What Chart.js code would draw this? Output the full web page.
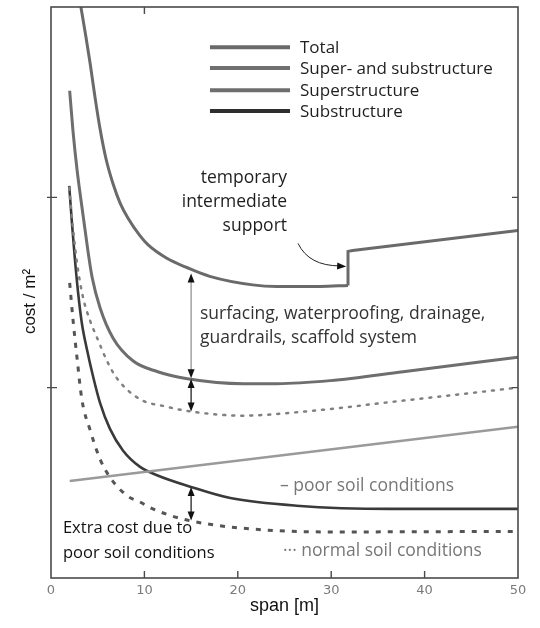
<!DOCTYPE html>
<html>
<head>
<meta charset="utf-8">
<script src="https://cdn.jsdelivr.net/npm/chart.js@4.4.1/dist/chart.umd.min.js"></script>
<style>
  html, body { margin: 0; padding: 0; background: #fff; }
  #wrap { width: 540px; height: 628px; position: relative; }
</style>
</head>
<body>
<div id="wrap"><canvas id="chart"></canvas></div>
<script>
// Span [m] and relative cost per m² for each cost curve.
const totalSpan = [3.2, 3.75, 4.2, 4.7, 5.25, 5.9, 6.65, 7.4, 8.25, 9.5, 10.4, 12.4, 14.6, 17.0, 21.6, 24.2, 28.8, 31.8];
const totalCost = [3.0, 2.84, 2.70, 2.53, 2.36, 2.20, 2.07, 1.97, 1.89, 1.80, 1.75, 1.68, 1.63, 1.585, 1.54, 1.532, 1.532, 1.537];

// Total beyond the temporary intermediate support (jump at 32 m).
const stepSpan = [31.8, 31.8, 32.3, 50];
const stepCost = [1.537, 1.716, 1.721, 1.826];

const superSubSpan = [2.0, 2.35, 2.8, 3.45, 3.95, 4.4, 5.25, 6.65, 8.8, 11.35, 14.6, 20.6, 24.2, 29.9, 37.7, 50];
const superSubCost = [2.56, 2.35, 2.14, 1.90, 1.72, 1.58, 1.42, 1.26, 1.14, 1.085, 1.047, 1.021, 1.021, 1.037, 1.084, 1.16];

const superSubNormalSpan = [1.95, 2.35, 2.8, 3.45, 4.2, 4.95, 6.0, 7.05, 9.5, 12.4, 14.9, 20.6, 27.0, 37.7, 50];
const superSubNormalCost = [2.05, 1.84, 1.65, 1.47, 1.35, 1.26, 1.14, 1.05, 0.94, 0.90, 0.875, 0.853, 0.874, 0.932, 1.0];

const superSpan = [2.0, 50];
const superCost = [0.51, 0.795];

const subPoorSpan = [1.95, 2.25, 2.55, 2.9, 3.3, 3.85, 4.5, 5.25, 6.3, 7.7, 9.5, 11.35, 14.9, 19.2, 26.3, 36.3, 50];
const subPoorCost = [2.06, 1.86, 1.68, 1.50, 1.34, 1.20, 1.06, 0.92, 0.785, 0.67, 0.585, 0.54, 0.48, 0.42, 0.38, 0.363, 0.363];

const subNormalSpan = [2.0, 2.35, 2.8, 3.3, 4.2, 5.25, 6.3, 8.15, 9.5, 10.9, 14.1, 19.2, 29.9, 50];
const subNormalCost = [1.55, 1.36, 1.15, 0.94, 0.775, 0.625, 0.53, 0.432, 0.40, 0.363, 0.31, 0.268, 0.242, 0.245];

const xTicks = [0, 10, 20, 30, 40, 50];
const yTicks = [1, 2];

const legendLabels = ['Total', 'Super- and substructure', 'Superstructure', 'Substructure'];

function pts(xs, ys) { return xs.map((x, i) => ({ x: x, y: ys[i] })); }

const TXT = '"Open Sans", "Noto Sans", sans-serif';

// Frame, inward ticks, arrows, legend and labels.
const decorations = {
  id: 'decorations',
  afterDatasetsDraw(chart) {
    const { ctx, chartArea: a, scales: { x, y } } = chart;
    const P = (vx, vy) => [x.getPixelForValue(vx), y.getPixelForValue(vy)];
    ctx.save();

    // frame
    ctx.strokeStyle = '#4a4a4a';
    ctx.lineWidth = 1.6;
    ctx.strokeRect(a.left, a.top, a.right - a.left, a.bottom - a.top);

    // tick marks
    ctx.lineWidth = 1.4;
    ctx.beginPath();
    xTicks.slice(1, -1).forEach(v => {
      const px = x.getPixelForValue(v);
      ctx.moveTo(px, a.bottom); ctx.lineTo(px, a.bottom - 7);
    });
    const t10 = x.getPixelForValue(10);
    ctx.moveTo(t10, a.top); ctx.lineTo(t10, a.top + 7);
    yTicks.forEach(v => {
      const py = y.getPixelForValue(v);
      ctx.moveTo(a.left - 4, py); ctx.lineTo(a.left + 6, py);
      ctx.moveTo(a.right, py); ctx.lineTo(a.right - 6, py);
    });
    ctx.stroke();

    // y axis title
    ctx.save();
    ctx.translate(30, (a.top + a.bottom) / 2 + 9);
    ctx.rotate(-Math.PI / 2);
    ctx.fillStyle = '#111';
    ctx.font = '17px "Liberation Sans", Arial, sans-serif';
    ctx.textAlign = 'center';
    ctx.textBaseline = 'middle';
    ctx.fillText('cost / m²', 0, 0);
    ctx.restore();

    function head(tx, ty, ang, color) {
      const L = 9, W = 3.5;
      ctx.fillStyle = color;
      ctx.beginPath();
      ctx.moveTo(tx, ty);
      ctx.lineTo(tx - L * Math.cos(ang) + W * Math.sin(ang), ty - L * Math.sin(ang) - W * Math.cos(ang));
      ctx.lineTo(tx - L * Math.cos(ang) - W * Math.sin(ang), ty - L * Math.sin(ang) + W * Math.cos(ang));
      ctx.closePath();
      ctx.fill();
    }
    function dblArrow(vx, v1, v2, lineColor) {
      const [px, p1] = P(vx, v1);
      const p2 = y.getPixelForValue(v2);
      ctx.strokeStyle = lineColor;
      ctx.lineWidth = 1.2;
      ctx.beginPath(); ctx.moveTo(px, p1 + 4); ctx.lineTo(px, p2 - 4); ctx.stroke();
      head(px, p1, -Math.PI / 2, '#111');
      head(px, p2, Math.PI / 2, '#111');
    }
    dblArrow(15, 1.60, 1.05, '#8a8a8a');
    dblArrow(15, 1.045, 0.875, '#111');
    dblArrow(15, 0.478, 0.302, '#111');

    // curved pointer to the support step
    const [c0x, c0y] = P(26.45, 1.758);
    const [c1x, c1y] = P(27.6, 1.64);
    const [c2x, c2y] = P(31.6, 1.637);
    ctx.strokeStyle = '#222';
    ctx.lineWidth = 1;
    ctx.beginPath(); ctx.moveTo(c0x, c0y); ctx.quadraticCurveTo(c1x, c1y, c2x - 6, c2y - 0.5); ctx.stroke();
    head(c2x, c2y, 0.06, '#111');

    // legend
    const legendY = [2.789, 2.679, 2.563, 2.453];
    const ds = chart.data.datasets;
    const legendSets = [ds[0], ds[2], ds[4], ds[5]];
    legendLabels.forEach((lab, i) => {
      const [lx0, ly] = P(17.02, legendY[i]);
      const lx1 = x.getPixelForValue(25.59);
      ctx.strokeStyle = legendSets[i].legendColor;
      ctx.lineWidth = 4;
      ctx.beginPath(); ctx.moveTo(lx0, ly); ctx.lineTo(lx1, ly); ctx.stroke();
      ctx.fillStyle = '#1e1e1e';
      ctx.font = '17px ' + TXT;
      ctx.textAlign = 'left';
      ctx.textBaseline = 'middle';
      ctx.fillText(lab, x.getPixelForValue(26.66), ly + 1);
    });

    // annotations
    function label(text, vx, vy, color, align, size) {
      const [px, py] = P(vx, vy);
      ctx.fillStyle = color;
      ctx.font = (size || 17.5) + 'px ' + TXT;
      ctx.textAlign = align || 'left';
      ctx.textBaseline = 'middle';
      ctx.fillText(text, px, py);
    }
    label('temporary', 25.27, 2.10, '#1e1e1e', 'right');
    label('intermediate', 25.27, 1.974, '#1e1e1e', 'right');
    label('support', 25.27, 1.847, '#1e1e1e', 'right');
    label('surfacing, waterproofing, drainage,', 15.95, 1.389, '#333');
    label('guardrails, scaffold system', 15.95, 1.263, '#333');
    label('– poor soil conditions', 24.52, 0.484, '#777');
    label('··· normal soil conditions', 24.84, 0.142, '#777');
    label('Extra cost due to', 1.28, 0.262, '#111', 'left', 16.5);
    label('poor soil conditions', 1.28, 0.130, '#111', 'left', 16.5);

    ctx.restore();
  }
};

new Chart(document.getElementById('chart'), {
  type: 'line',
  data: {
    datasets: [
      { label: 'Total', data: pts(totalSpan, totalCost), borderColor: '#6a6a6a', legendColor: '#6a6a6a',
        borderWidth: 3, cubicInterpolationMode: 'monotone' },
      { label: 'Total (with temporary support)', data: pts(stepSpan, stepCost), borderColor: '#6a6a6a',
        borderWidth: 3, tension: 0 },
      { label: 'Super- and substructure', data: pts(superSubSpan, superSubCost), borderColor: '#6e6e6e', legendColor: '#707070',
        borderWidth: 3, cubicInterpolationMode: 'monotone' },
      { label: 'Super- and substructure, normal soil', data: pts(superSubNormalSpan, superSubNormalCost), borderColor: '#808080',
        borderWidth: 2.5, borderDash: [2, 7], borderCapStyle: 'round', cubicInterpolationMode: 'monotone' },
      { label: 'Superstructure', data: pts(superSpan, superCost), borderColor: '#9a9a9a', legendColor: '#6e6e6e',
        borderWidth: 2.5, tension: 0 },
      { label: 'Substructure', data: pts(subPoorSpan, subPoorCost), borderColor: '#3a3a3a', legendColor: '#2e2e2e',
        borderWidth: 2.6, cubicInterpolationMode: 'monotone' },
      { label: 'Substructure, normal soil', data: pts(subNormalSpan, subNormalCost), borderColor: '#555555',
        borderWidth: 3, borderDash: [5, 7], cubicInterpolationMode: 'monotone' }
    ]
  },
  options: {
    responsive: true,
    maintainAspectRatio: false,
    animation: false,
    devicePixelRatio: 1,
    layout: { padding: { left: 0, right: 22, top: 7, bottom: 0 } },
    elements: { point: { radius: 0, hoverRadius: 0 }, line: { fill: false } },
    plugins: { legend: { display: false }, tooltip: { enabled: false } },
    scales: {
      x: {
        type: 'linear', min: 0, max: 50,
        grid: { display: false, drawTicks: false },
        border: { display: false },
        afterBuildTicks: s => { s.ticks = xTicks.map(v => ({ value: v })); },
        ticks: { color: '#7a7a7a', font: { family: '"DejaVu Sans", sans-serif', size: 13 }, padding: 5, maxRotation: 0, autoSkip: false },
        title: { display: true, text: 'span [m]', color: '#111', font: { family: '"Liberation Sans", Arial, sans-serif', size: 18 }, padding: { top: 0, bottom: 11 } },
        afterFit: s => { s.height = 50; }
      },
      y: {
        min: 0, max: 3,
        grid: { display: false, drawTicks: false },
        border: { display: false },
        ticks: { display: false },
        title: { display: false },
        afterFit: s => { s.width = 51; }
      }
    }
  },
  plugins: [decorations]
});
</script>
</body>
</html>
